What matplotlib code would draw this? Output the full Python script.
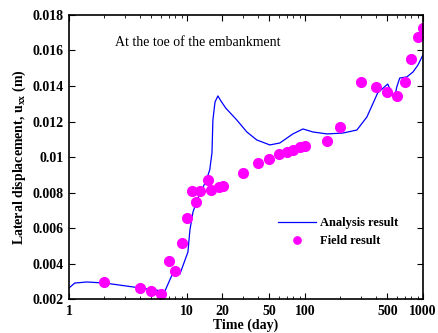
import matplotlib
matplotlib.use("Agg")
import matplotlib.pyplot as plt
import numpy as np
from matplotlib.ticker import FixedLocator, LogLocator, FuncFormatter, MultipleLocator

plt.rcParams['font.family'] = ['Liberation Serif', 'DejaVu Serif']
plt.rcParams['mathtext.fontset'] = 'custom'
plt.rcParams['mathtext.rm'] = 'Liberation Serif'
plt.rcParams['mathtext.bf'] = 'Liberation Serif:bold'

# Analysis result (time in days, lateral displacement in m)
analysis_t = [1.0, 1.12, 1.42, 2.02, 4.07, 5.35, 6.26, 6.51, 7.41, 7.65, 8.72,
              10.2, 10.6, 11.25, 12.4, 13.4, 14.8, 15.6, 16.3, 16.6, 17.3, 18.3,
              19.4, 21.3, 26.5, 32.2, 39.1, 50.4, 61.3, 79.0, 96.2, 116.9, 153.6,
              209.7, 275.6, 334.8, 413.6, 503.0, 543.6, 577.0, 600.0, 636.0,
              730.0, 824.0, 907.0, 1000.0]
analysis_u = [0.00262, 0.0029, 0.00296, 0.0029, 0.00262, 0.00251, 0.00245, 0.00245,
              0.0033, 0.00345, 0.00341, 0.00465, 0.00589, 0.0069, 0.00769, 0.00814,
              0.00882, 0.00927, 0.01023, 0.01208, 0.0131, 0.01344, 0.01316, 0.01276,
              0.01208, 0.01141, 0.01096, 0.01068, 0.01079, 0.0113, 0.01158, 0.01141,
              0.0113, 0.01135, 0.01152, 0.01225, 0.01361, 0.01411, 0.01361, 0.01338,
              0.01394, 0.01445, 0.01451, 0.01479, 0.01518, 0.01575]

# Field result
field_t = [2, 4, 5, 6, 7, 8, 9, 10, 11, 12, 13, 15, 16, 18.7, 20.2, 30, 40, 50,
           60, 70, 80, 90, 100, 155, 200, 300, 400, 500, 600, 700, 800, 900, 1000]
field_u = [0.00296, 0.00262, 0.00245, 0.00228, 0.00414, 0.00358, 0.00515, 0.00656,
           0.00808, 0.00746, 0.00808, 0.0087, 0.00814, 0.00831, 0.00837, 0.0091,
           0.00966, 0.00989, 0.01017, 0.01028, 0.0104, 0.01056, 0.01062, 0.0109,
           0.01169, 0.01422, 0.01394, 0.01366, 0.01344, 0.01422, 0.01552, 0.01676,
           0.01727]

x_ticks = [1, 10, 20, 50, 100, 500, 1000]

fig = plt.figure(figsize=(4.39, 3.33), dpi=100)
ax = fig.add_axes([0.157, 0.102, 0.8064, 0.853])

ax.plot(analysis_t, analysis_u, color='#0000ff', lw=0.9, label='Analysis result')
ax.plot(field_t, field_u, 'o', color='#ff00ff', ms=7, mec='#ff00ff',
        label='Field result')

ax.set_xscale('log')
ax.set_xlim(1, 1000)
ax.set_ylim(0.002, 0.018)
ax.xaxis.set_major_locator(FixedLocator(x_ticks))
ax.xaxis.set_major_formatter(FuncFormatter(lambda v, p: '%g' % v))
ax.xaxis.set_minor_locator(LogLocator(base=10, subs=np.arange(2, 10)))
ax.xaxis.set_minor_formatter(FuncFormatter(lambda v, p: ''))
ax.yaxis.set_major_locator(MultipleLocator(0.002))
ax.yaxis.set_major_formatter(FuncFormatter(lambda v, p: '%g' % round(v, 4)))

ax.tick_params(which='both', direction='in', top=True, right=True)
ax.tick_params(which='major', length=4, labelsize=10, pad=4)
ax.tick_params(which='minor', length=2)
for lab in ax.get_xticklabels() + ax.get_yticklabels():
    lab.set_fontweight('bold')
for s in ax.spines.values():
    s.set_linewidth(1.2)

ax.set_xlabel('Time (day)', fontsize=10, fontweight='bold', labelpad=1)
ax.set_ylabel(r'Lateral displacement, u$_{\mathbf{xx}}$ (m)', fontsize=10,
              fontweight='bold', labelpad=3)

ax.text(0.13, 0.89, 'At the toe of the embankment', transform=ax.transAxes,
        fontsize=10)

leg = ax.legend(loc='center left', bbox_to_anchor=(0.56, 0.235), frameon=False,
                prop={'size': 9, 'weight': 'bold'}, handlelength=3.0,
                handletextpad=0.3, labelspacing=0.5, markerscale=0.75)

fig.savefig('out.png', dpi=100)
